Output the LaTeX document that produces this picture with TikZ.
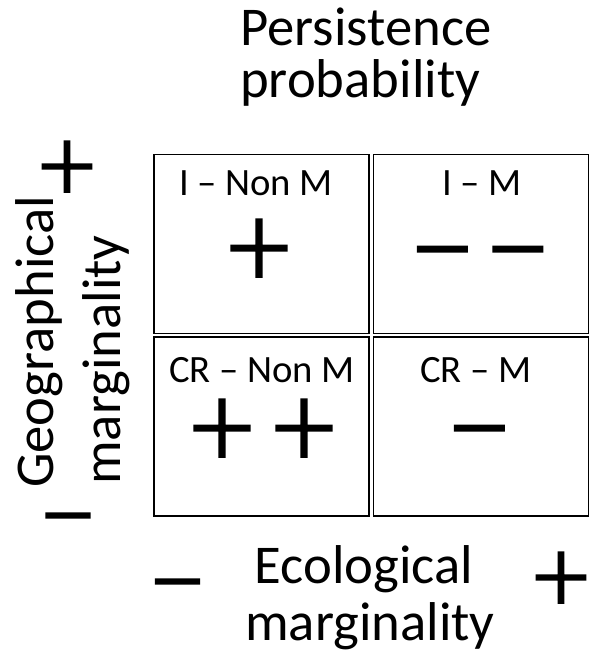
\documentclass[tikz,border=0pt]{standalone}
\usepackage{fontspec}
\setmainfont{Carlito}
\newfontfamily\signfont[FakeBold=2.5]{Lato Light}
\begin{document}
\begin{tikzpicture}[x=0.75pt, y=-0.75pt,
    cell/.style={draw, line width=1.1pt, inner sep=0pt, minimum width=161pt, minimum height=134pt},
    axislabel/.style={font=\fontsize{41}{48}\selectfont, inner sep=0pt, anchor=base west},
    celllabel/.style={font=\fontsize{29}{35}\selectfont, inner sep=0pt, anchor=base},
    sign/.style={font=\signfont\fontsize{87}{90}\selectfont, inner sep=0pt, anchor=base, text height=0.58em, text depth=0pt},
    smallsign/.style={font=\signfont\fontsize{77}{80}\selectfont, inner sep=0pt, anchor=base, text height=0.58em, text depth=0pt}]
    \useasboundingbox (0,0) rectangle (589,661);

    % cells
    \node[cell] (tl) at (261.5,244) {};
    \node[cell] (tr) at (481,244) {};
    \node[cell] (bl) at (261.5,426.5) {};
    \node[cell] (br) at (481,426.5) {};

    % cell labels
    \node[celllabel] (tllab) at (256,195) {I – Non M};
    \node[celllabel] (trlab) at (482,195) {I – M};
    \node[celllabel] (bllab) at (262,382) {CR – Non M};
    \node[celllabel] (brlab) at (476,382) {CR – M};

    % signs in cells
    \node[sign] (tlp) at (259,287) {+};
    \node[sign] (trm1) at (442.5,288) {−};
    \node[sign] (trm2) at (518,288) {−};
    \node[sign] (blp1) at (222,467) {+};
    \node[sign] (blp2) at (304,467) {+};
    \node[sign] (brm) at (479.5,467) {−};

    % title
    \node[axislabel] (ttl1) at (240,45) {Persistence};
    \node[axislabel] (ttl2) at (240,97) {probability};

    % geographical axis
    \node[axislabel, rotate=90] (geo1) at (53,488) {Geographical};
    \node[axislabel, rotate=90] (geo2) at (120,485) {marginality};
    \node[smallsign] (geop) at (67,201) {+};
    \node[smallsign] (geom) at (68,550) {−};

    % ecological axis
    \node[axislabel, anchor=base] (eco1) at (364,583) {Ecological};
    \node[axislabel, anchor=base] (eco2) at (370,640) {marginality};
    \node[smallsign] (ecom) at (177.5,616) {−};
    \node[smallsign] (ecop) at (561,612) {+};
\end{tikzpicture}
\end{document}
